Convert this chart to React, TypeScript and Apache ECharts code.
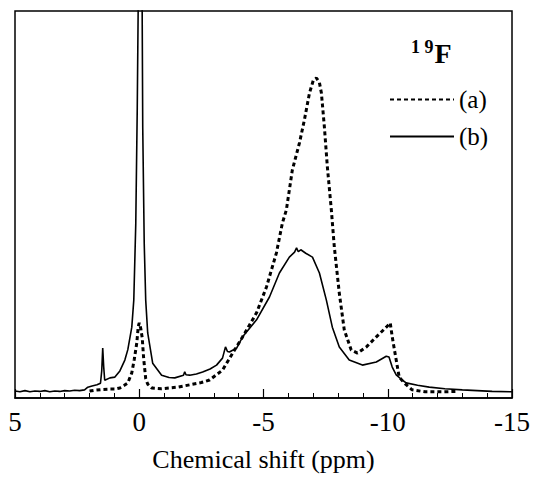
import React, { useEffect, useRef } from "react";
import * as echarts from "echarts";

// Chemical shift (ppm) / intensity (a.u., axis 0..100)
const seriesAName = "(a)";
const seriesBName = "(b)";

const seriesA: [number, number][] = [
  [2.0, 1.8], [1.8, 2.0], [1.5, 2.2], [1.18, 2.3], [0.98, 2.3], [0.78, 2.6],
  [0.6, 3.3], [0.46, 3.9], [0.3, 6.5], [0.2, 10.0], [0.1, 14.2], [0.04, 18.5],
  [0.0, 19.4], [-0.06, 18.0], [-0.12, 15.5], [-0.18, 10.0], [-0.26, 5.0],
  [-0.34, 3.6], [-0.5, 2.6], [-0.9, 2.4], [-1.55, 2.8], [-2.03, 3.4],
  [-2.5, 4.0], [-2.83, 4.65], [-3.35, 7.2], [-3.76, 11.6], [-4.16, 15.8],
  [-4.72, 22.0], [-5.12, 28.7], [-5.52, 37.5], [-5.76, 45.2], [-5.92, 48.6],
  [-6.16, 58.9], [-6.45, 66.0], [-6.65, 72.0], [-6.85, 78.8], [-7.0, 82.0],
  [-7.13, 82.7], [-7.25, 81.5], [-7.33, 78.8], [-7.45, 70.0], [-7.57, 59.7],
  [-7.73, 48.6], [-7.85, 39.0], [-8.05, 27.1], [-8.25, 17.6], [-8.53, 12.4],
  [-8.78, 11.6], [-9.14, 13.2], [-9.54, 15.8], [-9.94, 18.3], [-10.1, 19.4],
  [-10.18, 15.8], [-10.34, 9.8], [-10.46, 5.4], [-10.66, 3.9], [-10.98, 2.1],
  [-11.5, 1.6], [-12.2, 1.6], [-12.8, 1.7],
];

const seriesB: [number, number][] = [
  [5.0, 1.8], [4.8, 1.6], [4.6, 1.9], [4.4, 1.6], [4.2, 1.8], [4.0, 1.7],
  [3.8, 1.9], [3.6, 1.6], [3.4, 1.8], [3.2, 1.7], [3.0, 1.9], [2.8, 1.8],
  [2.6, 2.0], [2.4, 1.9], [2.2, 2.1], [2.07, 2.8], [1.9, 3.1], [1.7, 3.4],
  [1.56, 3.8], [1.51, 7.0], [1.47, 12.9], [1.43, 8.0], [1.39, 4.6],
  [1.18, 5.2], [0.98, 5.4], [0.78, 7.0], [0.58, 9.8], [0.46, 12.5],
  [0.3, 18.3], [0.22, 25.3], [0.14, 45.0], [0.08, 75.0], [0.03, 110.0],
  [0.02, 150.0], [-0.1, 150.0], [-0.11, 110.0], [-0.14, 70.0], [-0.2, 40.0],
  [-0.26, 25.3], [-0.34, 16.8], [-0.54, 9.0], [-0.9, 5.9], [-1.2, 5.3],
  [-1.43, 5.2], [-1.78, 5.9], [-1.83, 6.8], [-1.88, 6.0], [-2.03, 5.9],
  [-2.3, 6.2], [-2.55, 6.7], [-2.85, 7.5], [-3.11, 8.5], [-3.35, 10.3],
  [-3.47, 13.2], [-3.55, 12.0], [-3.63, 11.9], [-3.92, 12.9], [-4.16, 15.8],
  [-4.72, 20.2], [-5.24, 26.1], [-5.64, 32.3], [-6.04, 36.4], [-6.25, 37.7],
  [-6.33, 38.8], [-6.4, 37.8], [-6.5, 38.3], [-6.7, 37.4], [-6.97, 36.4],
  [-7.25, 32.3], [-7.53, 25.3], [-7.77, 18.3], [-8.05, 13.2], [-8.45, 9.8],
  [-8.98, 8.5], [-9.54, 9.3], [-9.94, 10.8], [-10.05, 10.6], [-10.18, 8.0],
  [-10.34, 6.0], [-10.58, 4.65], [-10.74, 3.9], [-11.2, 3.3], [-11.67, 2.8],
  [-12.3, 2.4], [-13.0, 2.1], [-13.6, 1.9], [-14.2, 1.7], [-15.0, 1.6],
];

const xMin = -15;
const xMax = 5;
const xInterval = 5;
const yMin = 0;
const yMax = 100;

const serif = "'Liberation Serif', 'DejaVu Serif', serif";

export default function App() {
  const ref = useRef<HTMLDivElement>(null);

  useEffect(() => {
    document.body.style.margin = "0";
    if (!ref.current) return;
    const chart = echarts.init(ref.current, null, { renderer: "svg" });
    chart.setOption({
      animation: false,
      backgroundColor: "#fff",
      title: {
        text: "{s|1 9}{f|F}",
        left: 406,
        top: 33,
        textStyle: {
          rich: {
            s: {
              fontFamily: serif,
              fontSize: 18,
              fontWeight: "bold",
              color: "#000",
              verticalAlign: "top",
              lineHeight: 30,
              padding: [0, 1, 0, 0],
            },
            f: {
              fontFamily: serif,
              fontSize: 28,
              fontWeight: "bold",
              color: "#000",
              lineHeight: 30,
            },
          },
        },
      },
      legend: {
        orient: "vertical",
        left: 384,
        top: 82,
        itemWidth: 64,
        itemHeight: 20,
        itemGap: 12,
        itemStyle: { opacity: 0 },
        textStyle: {
          fontFamily: serif,
          fontSize: 25,
          color: "#000",
          lineHeight: 20,
        },
        data: [seriesAName, seriesBName],
      },
      grid: {
        left: 15,
        right: 20,
        top: 11,
        bottom: 79,
        show: true,
        borderColor: "#000",
        borderWidth: 1.5,
        containLabel: false,
      },
      xAxis: {
        type: "value",
        min: xMin,
        max: xMax,
        interval: xInterval,
        inverse: true,
        name: "Chemical shift (ppm)",
        nameLocation: "middle",
        nameGap: 48,
        nameTextStyle: { fontFamily: serif, fontSize: 26, color: "#000" },
        axisLine: { show: true, lineStyle: { color: "#000", width: 1.5 } },
        axisTick: { show: true, inside: true, length: 9, lineStyle: { color: "#000", width: 1.2 } },
        minorTick: { show: true, splitNumber: 5, length: 5, lineStyle: { color: "#000", width: 1 } },
        axisLabel: { fontFamily: serif, fontSize: 27, color: "#000", margin: 10 },
        splitLine: { show: false },
      },
      yAxis: {
        type: "value",
        min: yMin,
        max: yMax,
        axisLine: { show: false },
        axisTick: { show: false },
        axisLabel: { show: false },
        splitLine: { show: false },
      },
      series: [
        {
          name: seriesAName,
          type: "line",
          data: seriesA,
          showSymbol: false,
          symbol: "none",
          clip: true,
          lineStyle: { color: "#000", width: 3, type: [4, 3] },
          itemStyle: { color: "#000" },
          z: 3,
        },
        {
          name: seriesBName,
          type: "line",
          data: seriesB,
          showSymbol: false,
          symbol: "none",
          clip: true,
          lineStyle: { color: "#000", width: 1.6 },
          itemStyle: { color: "#000" },
          z: 2,
        },
      ],
    });
    return () => chart.dispose();
  }, []);

  return <div ref={ref} style={{ width: 533, height: 477 }} />;
}
